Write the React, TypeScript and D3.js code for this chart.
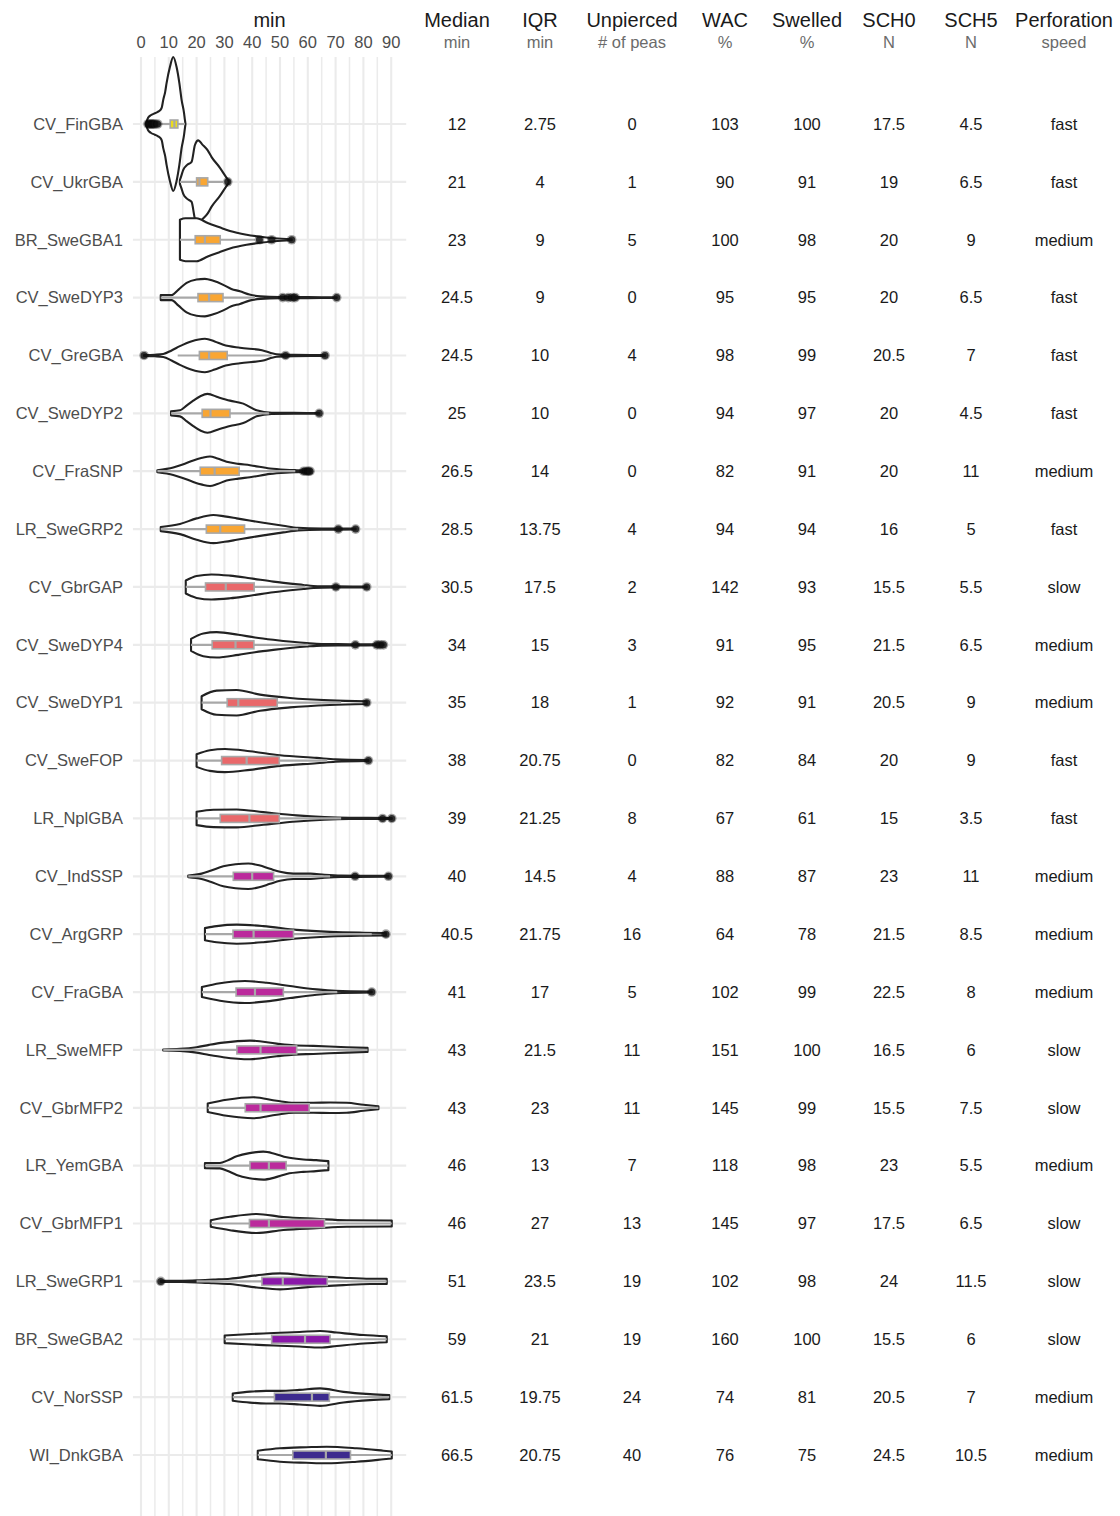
import React from 'react';
import * as d3 from 'd3';

// accessions, top to bottom
const accessions = [
  'CV_FinGBA', 'CV_UkrGBA', 'BR_SweGBA1', 'CV_SweDYP3', 'CV_GreGBA', 'CV_SweDYP2',
  'CV_FraSNP', 'LR_SweGRP2', 'CV_GbrGAP', 'CV_SweDYP4', 'CV_SweDYP1', 'CV_SweFOP',
  'LR_NplGBA', 'CV_IndSSP', 'CV_ArgGRP', 'CV_FraGBA', 'LR_SweMFP', 'CV_GbrMFP2',
  'LR_YemGBA', 'CV_GbrMFP1', 'LR_SweGRP1', 'BR_SweGBA2', 'CV_NorSSP', 'WI_DnkGBA',
];

// table columns
const medians = [12, 21, 23, 24.5, 24.5, 25, 26.5, 28.5, 30.5, 34, 35, 38, 39, 40, 40.5, 41, 43, 43, 46, 46, 51, 59, 61.5, 66.5];
const iqrs = [2.75, 4, 9, 9, 10, 10, 14, 13.75, 17.5, 15, 18, 20.75, 21.25, 14.5, 21.75, 17, 21.5, 23, 13, 27, 23.5, 21, 19.75, 20.75];
const unpierced = [0, 1, 5, 0, 4, 0, 0, 4, 2, 3, 1, 0, 8, 4, 16, 5, 11, 11, 7, 13, 19, 19, 24, 40];
const wac = [103, 90, 100, 95, 98, 94, 82, 94, 142, 91, 92, 82, 67, 88, 64, 102, 151, 145, 118, 145, 102, 160, 74, 76];
const swelled = [100, 91, 98, 95, 99, 97, 91, 94, 93, 95, 91, 84, 61, 87, 78, 99, 100, 99, 98, 97, 98, 100, 81, 75];
const sch0 = [17.5, 19, 20, 20, 20.5, 20, 20, 16, 15.5, 21.5, 20.5, 20, 15, 23, 21.5, 22.5, 16.5, 15.5, 23, 17.5, 24, 15.5, 20.5, 24.5];
const sch5 = [4.5, 6.5, 9, 6.5, 7, 4.5, 11, 5, 5.5, 6.5, 9, 9, 3.5, 11, 8.5, 8, 6, 7.5, 5.5, 6.5, 11.5, 6, 7, 10.5];
const perforation = [
  'fast', 'fast', 'medium', 'fast', 'fast', 'fast', 'medium', 'fast', 'slow', 'medium', 'medium', 'fast',
  'fast', 'medium', 'medium', 'medium', 'slow', 'slow', 'medium', 'slow', 'slow', 'slow', 'medium', 'medium',
];

const columnTitles = ['Median', 'IQR', 'Unpierced', 'WAC', 'Swelled', 'SCH0', 'SCH5', 'Perforation'];
const columnUnits = ['min', 'min', '# of peas', '%', '%', 'N', 'N', 'speed'];

// box plot stats (min)
const q1 = [10.5, 20, 19.5, 20.5, 21, 22, 21.3, 23.5, 23.2, 25.6, 31, 29, 28.5, 33.2, 33.1, 34.2, 34.5, 37.5, 39.2, 39, 43.5, 47, 48, 54.6];
const whiskerLow = [6.5, 14, 14, 7.1, 13.2, 10.8, 5.9, 7.1, 16.1, 18, 21.8, 20, 20, 17, 23, 21.9, 8, 24, 23, 25.1, 20, 30.1, 33, 42];
const whiskerHigh = [15.8, 29.5, 41, 41, 47, 46, 55.5, 56.5, 59, 60, 72, 67, 72, 68, 83, 70.6, 81.5, 85.4, 67.4, 90.2, 88.4, 88.4, 89.3, 90.2];
const outliers: number[][] = [
  [2.5, 3, 3.5, 4, 4.5, 5, 6],
  [31.2],
  [42.6, 47, 54.2],
  [51, 53, 54.5, 55.5, 70.4],
  [1.1, 52, 66.2],
  [64.1],
  [58.5, 59.5, 60.2, 60.8],
  [71, 77.2],
  [70.1, 81.2],
  [77.1, 84.8, 86, 87.2],
  [81.2],
  [81.8],
  [86.9, 90.2],
  [77, 89],
  [88.1],
  [83],
  [], [], [], [],
  [7.1],
  [], [], [],
];

// violin outlines: [minutes, relative density]
const violins: [number, number][][] = [
  [[1.8, 0], [2.5, 0.09], [3.5, 0.13], [5, 0.16], [6, 0.18], [7, 0.21], [7.5, 0.25], [8, 0.36], [8.7, 0.48], [9.2, 0.61], [10.4, 0.85], [11.6, 1.0], [12.8, 0.85], [13.8, 0.61], [14.6, 0.36], [15.5, 0.16], [15.8, 0.06], [16, 0]],
  [[14, 0.03], [14.5, 0.09], [15.2, 0.18], [16.5, 0.25], [18.2, 0.3], [19.4, 0.55], [20.6, 0.62], [22, 0.56], [24, 0.47], [25.4, 0.37], [28.4, 0.21], [30.8, 0.06], [31.5, 0.02]],
  [[14, 0.3], [16, 0.32], [20, 0.32], [24, 0.25], [28, 0.19], [32, 0.13], [38, 0.075], [43, 0.045], [48, 0.022], [54.2, 0.008]],
  [[7.1, 0.037], [11, 0.037], [13.5, 0.12], [16.4, 0.22], [20, 0.27], [23, 0.28], [26, 0.25], [29.6, 0.19], [32.5, 0.13], [35.6, 0.094], [39, 0.045], [43, 0.019], [50, 0.009], [60, 0.007], [70.4, 0.006]],
  [[1.1, 0.007], [5, 0.012], [8, 0.022], [11, 0.075], [14, 0.14], [18, 0.21], [23, 0.25], [26.5, 0.21], [29.6, 0.16], [35.6, 0.115], [43.5, 0.079], [48.8, 0.018], [55, 0.009], [66.2, 0.007]],
  [[10.8, 0.03], [14, 0.045], [16.5, 0.12], [18.8, 0.19], [21.5, 0.26], [23.9, 0.29], [27.8, 0.24], [32, 0.19], [36.8, 0.145], [41.6, 0.045], [47, 0.01], [55, 0.007], [64.1, 0.006]],
  [[5.9, 0.015], [11.6, 0.055], [15, 0.1], [18.8, 0.16], [22, 0.2], [24.8, 0.22], [27.5, 0.19], [30.8, 0.14], [35, 0.11], [39.2, 0.09], [46.4, 0.04], [52, 0.022], [56, 0.015], [60.8, 0.009]],
  [[7.1, 0.03], [14, 0.075], [20, 0.16], [26, 0.21], [30, 0.19], [34.4, 0.16], [39, 0.127], [44, 0.094], [51.2, 0.049], [56.5, 0.019], [65, 0.009], [77.2, 0.007]],
  [[16.1, 0.097], [18, 0.134], [20, 0.164], [25.4, 0.187], [32, 0.169], [39.2, 0.13], [47.6, 0.079], [58.4, 0.03], [62, 0.015], [70, 0.009], [81.2, 0.007]],
  [[18, 0.09], [22.4, 0.17], [27.2, 0.19], [35, 0.15], [41, 0.11], [47.6, 0.075], [59.6, 0.025], [65, 0.012], [75, 0.009], [87.2, 0.007]],
  [[21.8, 0.097], [27.2, 0.18], [34.4, 0.19], [42.8, 0.12], [53.6, 0.07], [68, 0.034], [81.2, 0.019]],
  [[20, 0.094], [24.8, 0.154], [30.2, 0.172], [39.2, 0.139], [50, 0.079], [63.2, 0.04], [70, 0.018], [81.8, 0.007]],
  [[20, 0.1], [26, 0.13], [34.4, 0.134], [44, 0.094], [56, 0.045], [66, 0.019], [75, 0.009], [90.2, 0.007]],
  [[17, 0.012], [21.8, 0.04], [25, 0.082], [29.6, 0.149], [34, 0.179], [38.6, 0.19], [42.5, 0.164], [46.4, 0.112], [50, 0.067], [54.8, 0.04], [61, 0.04], [66, 0.022], [72, 0.01], [89, 0.007]],
  [[23, 0.09], [27.2, 0.12], [34.4, 0.142], [44, 0.12], [56, 0.064], [68, 0.034], [80, 0.022], [88.1, 0.018]],
  [[21.9, 0.075], [28.4, 0.13], [37.4, 0.164], [45.2, 0.139], [53.6, 0.09], [63.2, 0.04], [70, 0.018], [83, 0.007]],
  [[8, 0.007], [14, 0.015], [20, 0.04], [24.5, 0.075], [29.6, 0.109], [39.2, 0.139], [48.8, 0.094], [55, 0.07], [62, 0.06], [74, 0.04], [81.5, 0.03]],
  [[24, 0.063], [30.8, 0.12], [40.4, 0.157], [48.8, 0.104], [55, 0.075], [62, 0.075], [68, 0.078], [74, 0.075], [80, 0.045], [85.4, 0.022]],
  [[23, 0.037], [28.4, 0.04], [31, 0.075], [34.4, 0.139], [39, 0.187], [44, 0.209], [48, 0.179], [52.4, 0.124], [58.4, 0.093], [63, 0.082], [67.4, 0.067]],
  [[25.1, 0.049], [32, 0.1], [41.6, 0.142], [51.2, 0.097], [63.2, 0.07], [74, 0.049], [90.2, 0.045]],
  [[7.1, 0.007], [15, 0.009], [20, 0.015], [26, 0.027], [32, 0.04], [41.6, 0.09], [50, 0.119], [60.8, 0.082], [72.8, 0.055], [82.4, 0.04], [88.4, 0.04]],
  [[30.1, 0.057], [38, 0.075], [44, 0.087], [50, 0.097], [57, 0.109], [64.4, 0.124], [70.4, 0.1], [80, 0.063], [88.4, 0.045]],
  [[33, 0.055], [39.2, 0.082], [45, 0.094], [50, 0.094], [57, 0.109], [64.4, 0.13], [72.8, 0.079], [82.4, 0.045], [89.3, 0.03]],
  [[42, 0.064], [50, 0.1], [59.6, 0.116], [66.8, 0.124], [77.6, 0.1], [87.2, 0.064], [90.2, 0.052]],
];

// box colour group per accession
const colorGroup = [0, 1, 1, 1, 1, 1, 1, 1, 2, 2, 2, 2, 2, 3, 3, 3, 3, 3, 3, 3, 4, 4, 5, 5];
const groupColors = ['#ebdc1e', '#f9a633', '#e9686a', '#bb2a9c', '#8a18a9', '#3d2b8e'];

const FONT = '"Liberation Sans", Arial, Helvetica, sans-serif';
const W = 1120;
const H = 1516;

const App = () => {
  const x = d3.scaleLinear().domain([0, 90]).range([141, 391.2]);
  const y = d3.scalePoint<string>().domain(accessions).range([124, 1455]);
  const halfWidth = d3.scaleLinear().domain([0, 1]).range([0, 67]);

  const panelLeft = x(-2.9);
  const panelRight = x(95.4);
  const panelTop = 57;

  const colX = [457, 540, 632, 725, 807, 889, 971, 1064];
  const columns = [medians, iqrs, unpierced, wac, swelled, sch0, sch5, perforation];

  const boxH = 4;

  return (
    <svg width={W} height={H} style={{ position: 'absolute', left: 0, top: 0, background: '#fff' }} fontFamily={FONT}>
      {/* grid */}
      {x.ticks(18).map(t => (
        <line key={'v' + t} x1={x(t)} x2={x(t)} y1={panelTop} y2={H}
          stroke="#ebebeb" strokeWidth={t % 10 === 0 ? 2.1 : 1.5} />
      ))}
      {accessions.map(a => (
        <line key={'h' + a} x1={panelLeft} x2={panelRight} y1={y(a)} y2={y(a)}
          stroke="#ebebeb" strokeWidth={2.2} />
      ))}

      {/* axis title and ticks */}
      <text x={(panelLeft + panelRight) / 2} y={27} textAnchor="middle" fontSize={20} fill="#1a1a1a">min</text>
      {x.ticks(10).map(t => (
        <text key={'t' + t} x={x(t)} y={48} textAnchor="middle" fontSize={16.5} fill="#4d4d4d">{t}</text>
      ))}

      {/* row labels */}
      {accessions.map(a => (
        <text key={'l' + a} x={123} y={y(a)} dy="0.35em" textAnchor="end" fontSize={16.5} fill="#4d4d4d">{a}</text>
      ))}

      {/* violins */}
      {accessions.map((a, i) => {
        const cy = y(a) as number;
        const area = d3.area<[number, number]>()
          .x(d => x(d[0]))
          .y0(d => cy - halfWidth(d[1]))
          .y1(d => cy + halfWidth(d[1]))
          .curve(d3.curveMonotoneX);
        return (
          <path key={'vi' + a} d={area(violins[i]) || ''} fill="#fff" stroke="#222" strokeWidth={2.1} strokeLinejoin="round" />
        );
      })}

      {/* boxes */}
      {accessions.map((a, i) => {
        const cy = y(a) as number;
        const lo = q1[i];
        const hi = q1[i] + iqrs[i];
        return (
          <g key={'b' + a}>
            <line x1={x(whiskerLow[i])} x2={x(whiskerHigh[i])} y1={cy} y2={cy} stroke="#a8a8a8" strokeWidth={2.2} />
            <rect x={x(lo)} y={cy - boxH} width={x(hi) - x(lo)} height={boxH * 2}
              fill={groupColors[colorGroup[i]]} stroke="#a8a8a8" strokeWidth={1.6} />
            <line x1={x(medians[i])} x2={x(medians[i])} y1={cy - boxH} y2={cy + boxH} stroke="#a8a8a8" strokeWidth={2.2} />
          </g>
        );
      })}

      {/* outliers */}
      {accessions.map((a, i) => (
        <g key={'o' + a}>
          {outliers[i].map((v, j) => (
            <g key={j}>
              <circle cx={x(v)} cy={y(a)} r={4.8} fill="#000" fillOpacity={0.35} />
              <circle cx={x(v)} cy={y(a)} r={3.5} fill="#111" fillOpacity={0.8} />
            </g>
          ))}
        </g>
      ))}

      {/* table */}
      {columnTitles.map((c, k) => (
        <g key={'c' + c}>
          <text x={colX[k]} y={27} textAnchor="middle" fontSize={20} fill="#1a1a1a">{c}</text>
          <text x={colX[k]} y={48} textAnchor="middle" fontSize={16.5} fill="#6b6b6b">{columnUnits[k]}</text>
          {accessions.map((a, i) => (
            <text key={a} x={colX[k]} y={y(a)} dy="0.35em" textAnchor="middle" fontSize={16.5} fill="#1a1a1a">
              {String(columns[k][i])}
            </text>
          ))}
        </g>
      ))}
    </svg>
  );
};

export default App;
